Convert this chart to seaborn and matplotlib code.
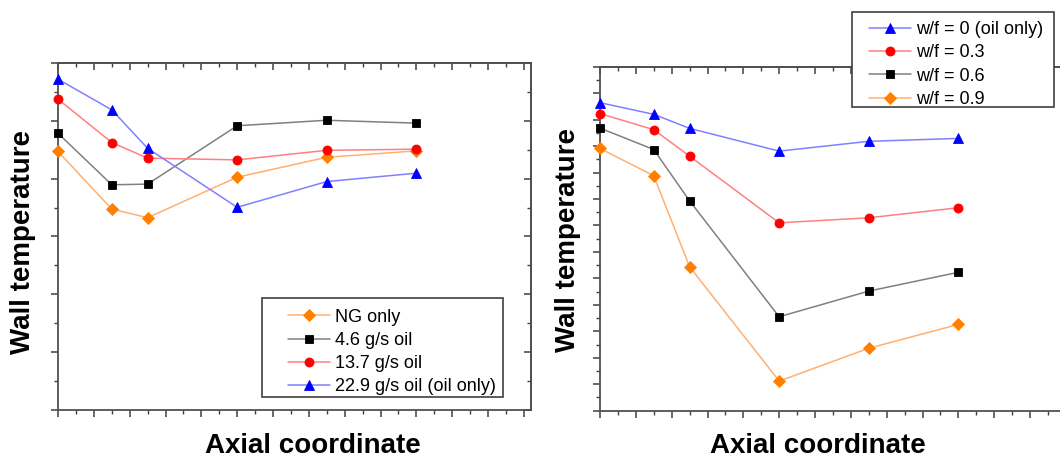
import numpy as np
import pandas as pd
import matplotlib
matplotlib.use("Agg")
import matplotlib.pyplot as plt
from matplotlib.patches import Rectangle
from matplotlib.ticker import MultipleLocator, NullFormatter
import seaborn as sns

# Axial measurement stations (arbitrary units)
axial_pos = [0, 1.5, 2.5, 5, 7.5, 10]

# Left panel: oil injection rate series
left_labels = ["NG only", "4.6 g/s oil", "13.7 g/s oil", "22.9 g/s oil (oil only)"]
ng_only = [8.94, 6.95, 6.65, 8.05, 8.74, 8.96]
oil_4_6 = [9.57, 7.79, 7.81, 9.83, 10.02, 9.92]
oil_13_7 = [10.75, 9.25, 8.71, 8.65, 8.98, 9.02]
oil_22_9 = [11.44, 10.38, 9.05, 7.01, 7.90, 8.19]

# Right panel: water-to-fuel ratio series
right_labels = ["w/f = 0 (oil only)", "w/f = 0.3", "w/f = 0.6", "w/f = 0.9"]
wf_0 = [11.64, 11.20, 10.67, 9.81, 10.18, 10.29]
wf_03 = [11.23, 10.62, 9.62, 7.10, 7.29, 7.67]
wf_06 = [10.68, 9.87, 7.93, 3.55, 4.52, 5.23]
wf_09 = [9.91, 8.88, 5.44, 1.12, 2.36, 3.26]

# (line colour, marker colour, marker, marker size)
styles = {
    "orange": ("#ffb070", "#ff8000", "D", 6.0),
    "black": ("#808080", "#000000", "s", 6.0),
    "red": ("#ff8080", "#ff0000", "o", 6.5),
    "blue": ("#8080ff", "#0000ff", "^", 7.5),
}

sns.set_style("ticks")
plt.rcParams["font.family"] = ["Liberation Sans", "DejaVu Sans"]
plt.rcParams["text.color"] = "black"

W, H = 1060, 458
fig = plt.figure(figsize=(W / 100, H / 100), dpi=100)


def fx(x):
    return x / W


def fy(y):
    return (H - y) / H


def px_axes(left, top, right, bottom):
    return fig.add_axes([fx(left), fy(bottom), (right - left) / W, (bottom - top) / H])


def draw(ax, series, labels, style_keys):
    for vals, lab, key in zip(series, labels, style_keys):
        lc, mc, mk, ms = styles[key]
        df = pd.DataFrame({"x": axial_pos, "y": vals})
        sns.lineplot(data=df, x="x", y="y", ax=ax, color=lc, lw=1.1,
                     marker=mk, markersize=ms, markerfacecolor=mc,
                     markeredgecolor=mc, markeredgewidth=0.6, label=lab,
                     legend=False, clip_on=False, zorder=3)


def style_axes(ax, ymax, ymajor, yminor, xlabel_x, baseline_px):
    ax.set_xlim(0, 13.2)
    ax.set_ylim(0, ymax)
    ax.xaxis.set_major_locator(MultipleLocator(1))
    ax.xaxis.set_minor_locator(MultipleLocator(0.5))
    ax.yaxis.set_major_locator(MultipleLocator(ymajor))
    ax.yaxis.set_minor_locator(MultipleLocator(yminor))
    ax.xaxis.set_major_formatter(NullFormatter())
    ax.yaxis.set_major_formatter(NullFormatter())
    ax.tick_params(which="major", direction="out", length=5, width=1.1, color="#404040",
                   top=False, right=False)
    ax.tick_params(which="minor", direction="out", length=3, width=1.0, color="#404040",
                   top=False, right=False)
    for sp in ax.spines.values():
        sp.set_visible(True)
        sp.set_color("#505050")
        sp.set_linewidth(1.3)
    # inward ticks on the top and right frame edges
    sx = ax.secondary_xaxis("top")
    sy = ax.secondary_yaxis("right")
    for sec, axis in ((sx, sx.xaxis), (sy, sy.yaxis)):
        axis.set_major_formatter(NullFormatter())
        sec.tick_params(which="major", direction="in", length=5, width=1.1, color="#404040")
        sec.tick_params(which="minor", direction="in", length=3, width=1.0, color="#404040")
        for sp in sec.spines.values():
            sp.set_color("#505050")
            sp.set_linewidth(1.3)
    sx.xaxis.set_major_locator(MultipleLocator(1))
    sx.xaxis.set_minor_locator(MultipleLocator(0.5))
    sy.yaxis.set_major_locator(MultipleLocator(ymajor))
    sy.yaxis.set_minor_locator(MultipleLocator(yminor))

    ax.set_xlabel("")
    ax.set_ylabel("")
    bbox = ax.get_position()
    fig.text(bbox.x0 + xlabel_x * bbox.width, fy(baseline_px), "Axial coordinate",
             fontsize=20, fontweight="bold", ha="center", va="baseline", color="black")


# Left panel
axL = px_axes(58, 63, 531, 410)
draw(axL, [ng_only, oil_4_6, oil_13_7, oil_22_9], left_labels,
     ["orange", "black", "red", "blue"])
style_axes(axL, 12, 2, 1, 0.539, 453)
fig.text(fx(23), fy(242), "Wall temperature", rotation=90,
         fontsize=20, fontweight="bold", ha="center", va="center", color="black")

# Right panel
axR = px_axes(600, 66.7, 1073, 410.7)
draw(axR, [wf_0, wf_03, wf_06, wf_09], right_labels,
     ["blue", "red", "black", "orange"])
style_axes(axR, 13, 1, 0.5, 0.461, 453)
fig.text(fx(568), fy(240), "Wall temperature", rotation=90,
         fontsize=20, fontweight="bold", ha="center", va="center", color="black")

leg_kw = dict(frameon=False, fontsize=13, handlelength=2.3,
              handletextpad=0.33, labelspacing=0.35, borderpad=0,
              borderaxespad=0, loc="center left")


def boxed_legend(ax, box, anchor):
    x0, y0, x1, y1 = box
    fig.patches.append(Rectangle((fx(x0), fy(y1)), fx(x1) - fx(x0), fy(y0) - fy(y1),
                                 transform=fig.transFigure, facecolor="white",
                                 edgecolor="#404040", linewidth=1.2, zorder=4))
    h, l = ax.get_legend_handles_labels()
    leg = fig.legend(h, l, bbox_to_anchor=(fx(anchor[0]), fy(anchor[1])), **leg_kw)
    leg.set_zorder(5)
    return leg


boxed_legend(axL, (262, 298, 503, 397), (288, 352))
boxed_legend(axR, (852, 12, 1054, 107), (869, 64.5))

fig.savefig("out.png", dpi=100, facecolor="white")
